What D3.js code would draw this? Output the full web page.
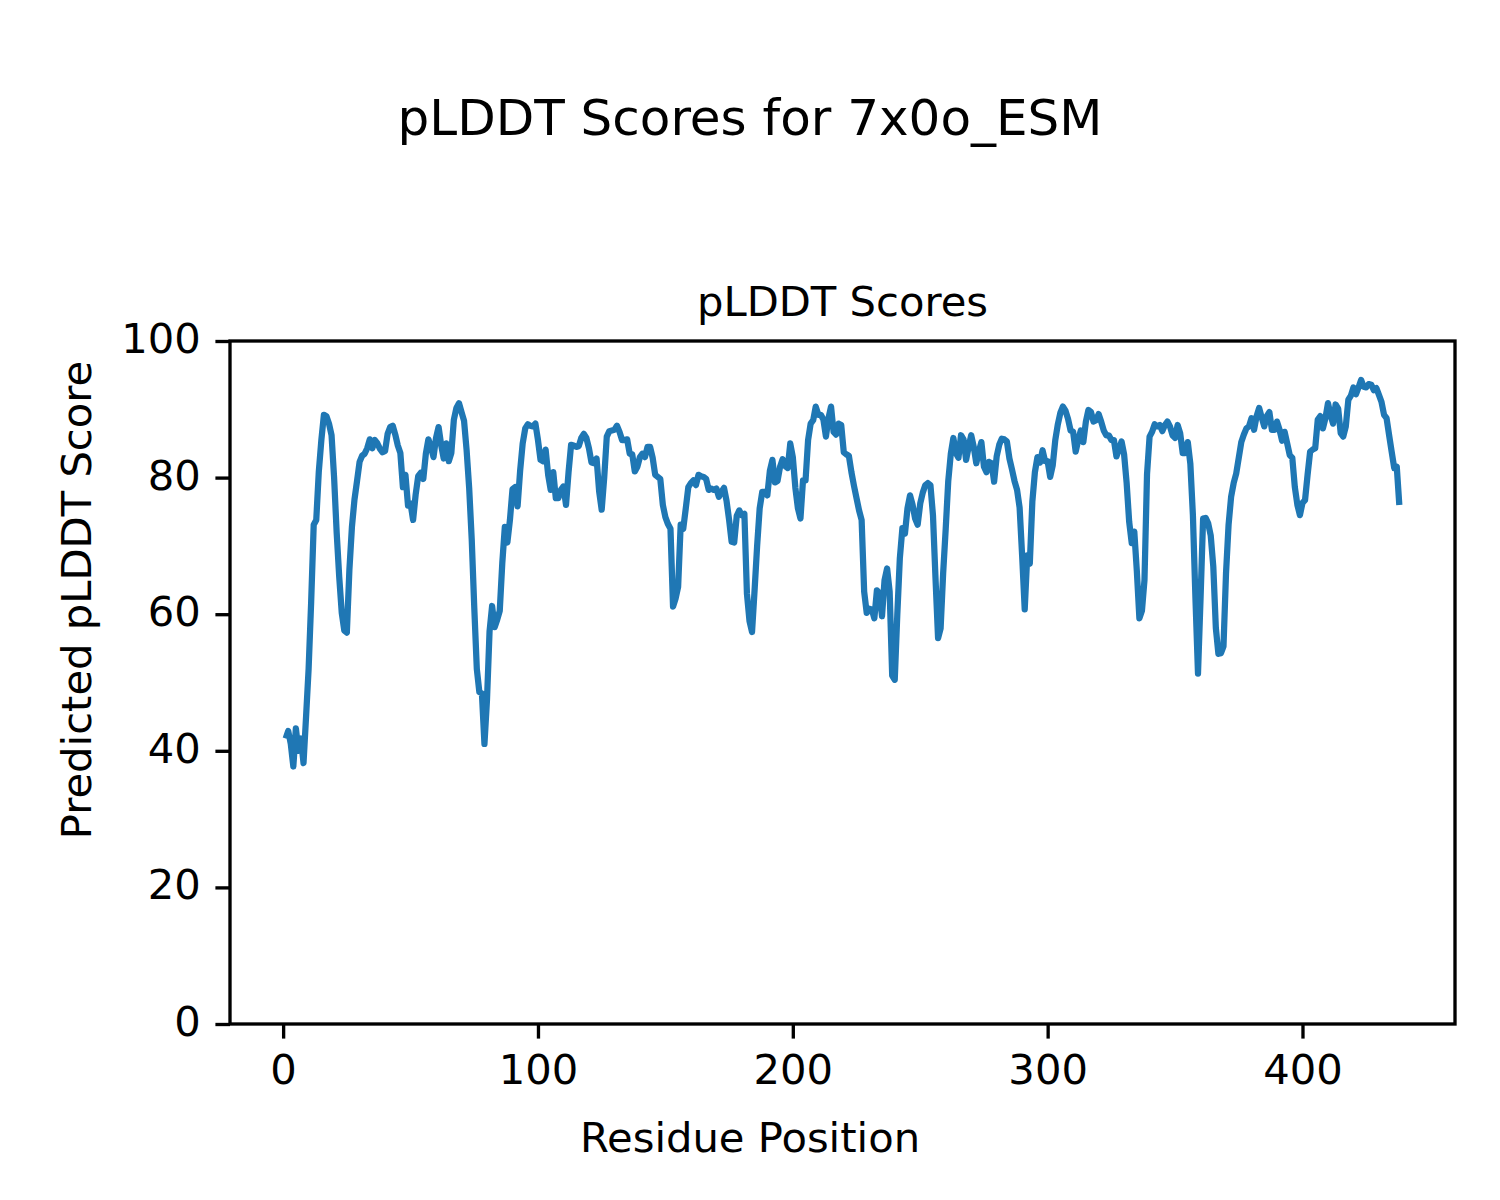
<!DOCTYPE html>
<html>
<head>
<meta charset="utf-8">
<script src="https://cdn.jsdelivr.net/npm/d3@7"></script>
<style>
  html, body { margin: 0; padding: 0; background: #fff; }
  svg { display: block; }
  text { font-family: "DejaVu Sans", sans-serif; fill: #000; }
</style>
</head>
<body>
<script>
// ---------------- data ----------------
const figureTitle = "pLDDT Scores for 7x0o_ESM";
const axesTitle = "pLDDT Scores";
const xLabel = "Residue Position";
const yLabel = "Predicted pLDDT Score";
const xTicks = [0, 100, 200, 300, 400];
const yTicks = [0, 20, 40, 60, 80, 100];
const firstResidue = 1;
// pLDDT per residue (residues 1..438)
const plddt = [
  41.8, 42.9, 41.0, 37.7, 43.3, 40.0, 41.8, 38.2, 45.0, 52.0,
  61.8, 73.1, 73.8, 80.9, 85.5, 89.2, 89.0, 87.9, 86.2, 80.0,
  72.0, 65.5, 60.2, 57.6, 57.3, 66.5, 72.8, 76.8, 79.5, 82.3,
  83.2, 83.5, 84.3, 85.6, 84.3, 85.5, 85.0, 84.2, 83.7, 83.9,
  86.4, 87.4, 87.6, 86.3, 84.7, 83.6, 78.6, 80.4, 75.9, 76.2,
  73.8, 77.5, 80.2, 80.7, 79.8, 83.5, 85.6, 84.5, 83.0, 85.8,
  87.4, 84.8, 82.8, 85.0, 82.4, 83.6, 88.5, 90.2, 90.9, 89.6,
  88.3, 84.0, 78.5, 71.0, 61.0, 52.0, 48.6, 48.4, 41.0, 47.5,
  57.5, 61.2, 58.1, 59.2, 60.5, 67.5, 72.8, 70.5, 73.8, 78.3,
  78.6, 75.8, 81.0, 85.0, 87.2, 87.8, 87.6, 87.5, 87.9, 85.5,
  82.6, 82.4, 84.1, 80.4, 78.2, 80.8, 77.0, 77.0, 78.2, 78.7,
  76.0, 80.8, 84.8, 84.7, 84.5, 84.6, 85.8, 86.4, 85.8, 84.3,
  82.2, 82.1, 82.8, 78.0, 75.3, 80.0, 86.0, 86.8, 86.9, 87.0,
  87.6, 86.7, 85.5, 85.5, 85.6, 83.5, 83.4, 80.9, 81.6, 83.0,
  83.5, 83.0, 84.5, 84.5, 82.9, 80.4, 80.1, 79.8, 76.0, 74.2,
  73.2, 72.5, 61.1, 62.3, 64.0, 73.1, 72.5, 75.5, 78.6, 79.2,
  79.6, 78.9, 80.4, 80.2, 80.1, 79.8, 78.2, 78.4, 78.2, 78.4,
  77.2, 77.9, 78.5, 76.6, 73.8, 70.6, 70.5, 74.4, 75.2, 74.5,
  74.7, 63.0, 59.0, 57.4, 63.5, 70.0, 75.5, 77.9, 77.9, 77.4,
  81.0, 82.6, 79.3, 79.5, 81.6, 82.7, 81.7, 81.4, 85.0, 83.0,
  78.5, 75.5, 74.0, 79.6, 79.6, 85.5, 87.9, 88.4, 90.4, 89.2,
  89.2, 88.5, 86.0, 88.7, 90.4, 86.7, 86.3, 87.9, 87.7, 83.7,
  83.4, 83.2, 80.8, 78.8, 77.0, 75.2, 73.8, 63.3, 60.2, 60.8,
  60.7, 59.4, 63.5, 63.1, 59.7, 65.0, 66.7, 63.3, 51.0, 50.4,
  59.9, 68.2, 72.6, 71.8, 75.5, 77.4, 76.0, 74.0, 73.1, 76.2,
  77.8, 78.9, 79.2, 78.9, 74.5, 65.2, 56.5, 57.9, 66.0, 72.5,
  79.5, 83.5, 85.8, 83.6, 82.9, 86.2, 85.6, 82.6, 84.5, 86.2,
  84.5, 82.1, 83.8, 85.2, 81.6, 80.8, 82.3, 82.1, 79.4, 83.1,
  84.8, 85.7, 85.6, 85.3, 82.8, 81.2, 79.5, 78.2, 75.6, 68.5,
  60.7, 68.6, 67.4, 76.5, 80.8, 83.0, 82.2, 84.0, 82.4, 82.4,
  80.1, 81.8, 85.5, 87.8, 89.5, 90.4, 89.8, 88.6, 86.9, 86.7,
  83.8, 85.5, 86.9, 85.2, 88.2, 89.9, 89.6, 88.2, 88.4, 89.3,
  88.2, 86.9, 86.2, 86.2, 85.5, 85.5, 83.1, 84.2, 85.3, 83.4,
  79.2, 73.5, 70.4, 72.1, 66.3, 59.4, 60.5, 65.0, 80.5, 86.0,
  86.7, 87.8, 87.5, 87.7, 86.8, 87.7, 88.2, 87.5, 86.2, 85.8,
  87.7, 86.5, 83.6, 83.6, 85.2, 82.0, 74.5, 62.3, 51.3, 62.3,
  74.0, 74.1, 73.3, 71.5, 67.0, 58.0, 54.2, 54.3, 55.3, 66.0,
  73.1, 77.2, 79.2, 80.6, 82.9, 85.2, 86.3, 87.2, 87.5, 88.7,
  87.0, 89.0, 90.2, 88.8, 87.5, 89.0, 89.6, 87.0, 87.0, 88.2,
  87.0, 85.4, 86.7, 85.0, 83.3, 82.9, 78.6, 76.0, 74.5, 76.3,
  76.7, 80.4, 83.8, 84.1, 84.3, 88.5, 89.0, 87.2, 88.7, 90.9,
  89.2, 87.9, 90.7, 90.1, 86.5, 86.0, 87.5, 91.4, 92.0, 93.2,
  92.2, 93.2, 94.3, 93.3, 93.2, 93.7, 93.6, 92.8, 93.1, 92.1,
  91.1, 89.2, 88.7, 86.2, 83.8, 81.4, 81.6, 76.0
];

// ---------------- layout ----------------
const W = 1500, H = 1200;
const plot = { left: 230, right: 1455, top: 341, bottom: 1024 };
const fs = 41.7;       // 10pt at 300 dpi
const fsSup = 50;      // 12pt at 300 dpi
const tickLen = 14.6, tickPad = 14.6;
const spineW = 3.33;
const lineColor = "#1f77b4";

const residues = plddt.map((_, i) => firstResidue + i);
const data = residues.map((r, i) => ({ r, v: plddt[i] }));

const xMin = d3.min(residues), xMax = d3.max(residues);
const xMargin = (xMax - xMin) * 0.05;
const x = d3.scaleLinear().domain([xMin - xMargin, xMax + xMargin]).range([plot.left, plot.right]);
const y = d3.scaleLinear().domain([0, 100]).range([plot.bottom, plot.top]);

const svg = d3.select("body").append("svg").attr("width", W).attr("height", H);
svg.append("rect").attr("width", W).attr("height", H).attr("fill", "#fff");

// line
const clipId = "plotclip";
svg.append("clipPath").attr("id", clipId).append("rect")
  .attr("x", plot.left).attr("y", plot.top)
  .attr("width", plot.right - plot.left).attr("height", plot.bottom - plot.top);

svg.append("path")
  .datum(data)
  .attr("clip-path", `url(#${clipId})`)
  .attr("fill", "none")
  .attr("stroke", lineColor)
  .attr("stroke-width", 6.25)
  .attr("stroke-linejoin", "round")
  .attr("stroke-linecap", "butt")
  .attr("d", d3.line().x(d => x(d.r)).y(d => y(d.v)));

// axes
const xAxis = svg.append("g").attr("transform", `translate(0,${plot.bottom})`)
  .call(d3.axisBottom(x).tickValues(xTicks).tickFormat(d3.format("d")).tickSize(tickLen).tickPadding(tickPad));
const yAxis = svg.append("g").attr("transform", `translate(${plot.left},0)`)
  .call(d3.axisLeft(y).tickValues(yTicks).tickFormat(d3.format("d")).tickSize(tickLen).tickPadding(tickPad));

[xAxis, yAxis].forEach(g => {
  g.select(".domain").remove();
  g.selectAll(".tick line").attr("stroke", "#000").attr("stroke-width", spineW);
  g.selectAll(".tick text").attr("font-family", "DejaVu Sans").attr("font-size", fs).attr("fill", "#000");
});
xAxis.selectAll(".tick text").attr("dy", null).attr("y", tickLen + tickPad + 30.5);
yAxis.selectAll(".tick text").attr("dy", null).attr("y", 11.5);

// spines
svg.append("rect")
  .attr("x", plot.left).attr("y", plot.top)
  .attr("width", plot.right - plot.left).attr("height", plot.bottom - plot.top)
  .attr("fill", "none").attr("stroke", "#000").attr("stroke-width", spineW);

// titles
svg.append("text").attr("x", W / 2).attr("y", 135)
  .attr("text-anchor", "middle").attr("font-size", fsSup).text(figureTitle);
svg.append("text").attr("x", (plot.left + plot.right) / 2).attr("y", 316)
  .attr("text-anchor", "middle").attr("font-size", fs).text(axesTitle);
svg.append("text").attr("x", W / 2).attr("y", 1152)
  .attr("text-anchor", "middle").attr("font-size", fs).text(xLabel);
svg.append("text").attr("transform", `translate(91,${H / 2}) rotate(-90)`)
  .attr("text-anchor", "middle").attr("font-size", fs).text(yLabel);
</script>
</body>
</html>
